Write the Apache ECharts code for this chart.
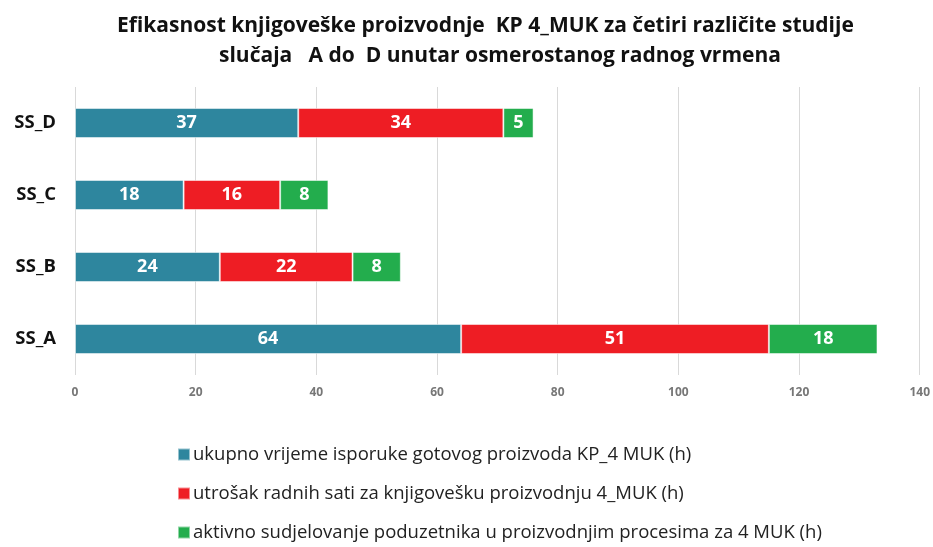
<!DOCTYPE html>
<html><head><meta charset="utf-8">
<script src="https://cdn.jsdelivr.net/npm/echarts@6/dist/echarts.min.js"></script>
<style>html,body{margin:0;padding:0;background:#fff}#c{width:933px;height:547px}</style>
</head><body><div id="c"></div>
<script>
const categories = ['SS_A', 'SS_B', 'SS_C', 'SS_D'];
const seriesNames = [
  'ukupno vrijeme isporuke gotovog proizvoda KP_4 MUK (h)',
  'utrošak radnih sati za knjigovešku proizvodnju 4_MUK (h)',
  'aktivno sudjelovanje poduzetnika u proizvodnjim procesima za 4 MUK (h)'
];
const titleLines = [
  'Efikasnost knjigoveške proizvodnje  KP 4_MUK za četiri različite studije',
  'slučaja   A do  D unutar osmerostanog radnog vrmena'
];
const isporuka = [64, 24, 18, 37];
const utrosak = [51, 22, 16, 34];
const aktivno = [18, 8, 8, 5];
const xTicks = [0, 20, 40, 60, 80, 100, 120, 140];
const colors = ['#2E869E', '#EE1D24', '#23AD4D'];
const values = [isporuka, utrosak, aktivno];

const FONT = 'Open Sans';
const titleStyle = { fontFamily: FONT, fontWeight: 'bold', fontSize: 21, color: '#111' };
const chart = echarts.init(document.getElementById('c'));
chart.setOption({
  animation: false,
  title: [
    { text: titleLines[0], left: 112, top: 11, textStyle: titleStyle },
    { text: titleLines[1], left: 214, top: 41, textStyle: titleStyle }
  ],
  grid: { left: 75, right: 11, top: 87, bottom: 172, containLabel: false },
  xAxis: {
    type: 'value', min: xTicks[0], max: xTicks[xTicks.length - 1], interval: 20,
    axisLine: { show: false }, axisTick: { show: false },
    splitLine: { lineStyle: { color: '#D9D9D9', width: 1 } },
    axisLabel: { color: '#777', fontFamily: FONT, fontWeight: 'bold', fontSize: 12, margin: 12 }
  },
  yAxis: {
    type: 'category', data: categories,
    axisLine: { show: false }, axisTick: { show: false },
    axisLabel: { color: '#111', fontFamily: FONT, fontWeight: 'bold', fontSize: 18.5, margin: 19 }
  },
  legend: {
    orient: 'vertical', left: 172, top: 440, itemGap: 20,
    itemWidth: 12, itemHeight: 12, icon: 'rect',
    textStyle: { fontFamily: FONT, fontSize: 18.5, color: '#222', padding: [0, 0, 0, -2] },
    data: seriesNames
  },
  series: seriesNames.map((n, i) => ({
    name: n, type: 'bar', stack: 'total', data: values[i],
    barWidth: 30,
    itemStyle: { color: colors[i], borderColor: 'rgba(255,255,255,0.5)', borderWidth: 1 },
    label: { show: true, position: 'inside', color: '#fff', fontFamily: FONT, fontWeight: 'bold', fontSize: 18 }
  }))
});
</script></body></html>
